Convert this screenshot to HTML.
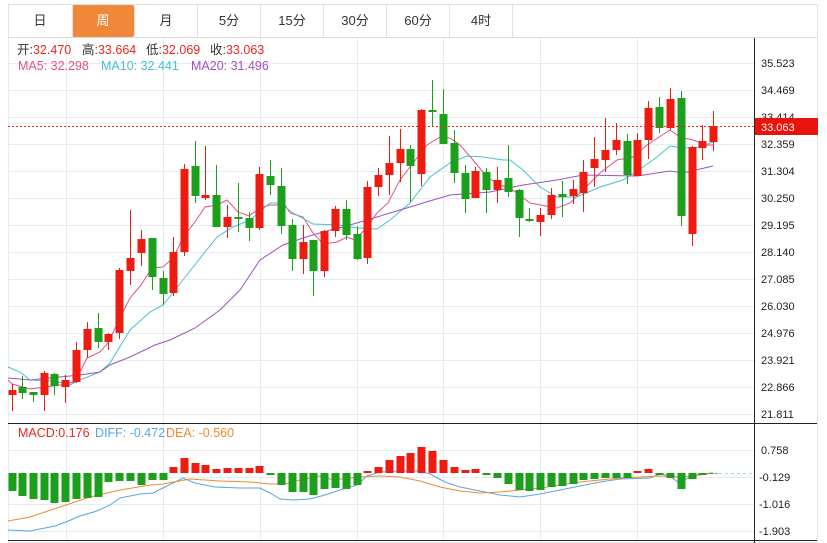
<!DOCTYPE html>
<html><head><meta charset="utf-8"><style>
body{margin:0;background:#fff;width:827px;height:543px;overflow:hidden;font-family:"Liberation Sans","Noto Sans CJK SC",sans-serif}
svg{position:absolute;left:0;top:0}
</style></head><body>
<svg id="s" width="827" height="543" xmlns="http://www.w3.org/2000/svg" font-family="Liberation Sans, Noto Sans CJK SC, sans-serif">
<rect x="8.5" y="4.5" width="809" height="538" fill="none" stroke="#e2e2e2"/>
<line x1="8" y1="37.5" x2="817" y2="37.5" stroke="#dcdcdc"/>
<rect x="72" y="5" width="62" height="32" rx="2" fill="#f0883a"/>
<g stroke="#e2e2e2"><line x1="72.5" y1="5" x2="72.5" y2="37"/><line x1="134.5" y1="5" x2="134.5" y2="37"/><line x1="197.5" y1="5" x2="197.5" y2="37"/><line x1="260.5" y1="5" x2="260.5" y2="37"/><line x1="323.5" y1="5" x2="323.5" y2="37"/><line x1="386.5" y1="5" x2="386.5" y2="37"/><line x1="449.5" y1="5" x2="449.5" y2="37"/><line x1="512.5" y1="5" x2="512.5" y2="37"/></g>
<g font-size="13" text-anchor="middle" fill="#333"><text x="40" y="25">日</text><text x="103" y="25" fill="#fff">周</text><text x="166" y="25">月</text><text x="229" y="25">5分</text><text x="292" y="25">15分</text><text x="355" y="25">30分</text><text x="418" y="25">60分</text><text x="481" y="25">4时</text></g>
<g id="grid" stroke="#e6edf2" stroke-width="1"></g>
<g id="ma"></g>
<g id="c"></g>
<line x1="8" y1="126.5" x2="754" y2="126.5" stroke="#e8281e" stroke-dasharray="2,2"/>
<line x1="713" y1="473.5" x2="754" y2="473.5" stroke="#a8d0ee" stroke-dasharray="3,3"/>
<line x1="754.5" y1="38" x2="754.5" y2="543" stroke="#222"/>
<line x1="8" y1="423.5" x2="817" y2="423.5" stroke="#222"/>
<line x1="8" y1="540.5" x2="817" y2="540.5" stroke="#222"/>
<g font-size="11" fill="#222">
<text x="761" y="67">35.523</text><text x="761" y="94">34.469</text><text x="761" y="121">33.414</text><text x="761" y="148">32.359</text><text x="761" y="175">31.304</text><text x="761" y="202">30.250</text><text x="761" y="229">29.195</text><text x="761" y="256">28.140</text><text x="761" y="283">27.085</text><text x="761" y="310">26.030</text><text x="761" y="337">24.976</text><text x="761" y="364">23.921</text><text x="761" y="391">22.866</text><text x="761" y="418">21.811</text>
<text x="761" y="454">0.758</text><text x="759" y="481">-0.129</text><text x="759" y="508">-1.016</text><text x="759" y="535">-1.903</text>
</g>
<rect x="755" y="118" width="63" height="17" fill="#e8140c"/>
<text x="761" y="131" font-size="11" fill="#fff">33.063</text>
<g font-size="12.5">
<text x="17" y="54" fill="#333">开:<tspan fill="#e8281e">32.470</tspan></text>
<text x="82" y="54" fill="#333">高:<tspan fill="#e8281e">33.664</tspan></text>
<text x="146" y="54" fill="#333">低:<tspan fill="#e8281e">32.069</tspan></text>
<text x="210" y="54" fill="#333">收:<tspan fill="#e8281e">33.063</tspan></text>
<text x="18" y="70" fill="#e0518b">MA5: 32.298</text><text x="101" y="70" fill="#45c0d5">MA10: 32.441</text><text x="191" y="70" fill="#a050c0">MA20: 31.496</text>
<text x="18" y="437" fill="#e8281e">MACD:0.176</text><text x="95" y="437" fill="#5ba4e0">DIFF: -0.472</text><text x="166" y="437" fill="#f08a30">DEA: -0.560</text>
</g>
</svg>
<script>
var NS="http://www.w3.org/2000/svg";
function el(p,t,a){var e=document.createElementNS(NS,t);for(var k in a)e.setAttribute(k,a[k]);p.appendChild(e);return e;}
var g=document.getElementById('grid');
[63,90,117,144,171,198,225,252,279,306,333,360,387,414,450,477,504,531].forEach(function(y){el(g,'line',{x1:8,x2:754,y1:y+.5,y2:y+.5});});
[66,163,260,357,443,540,637].forEach(function(x){el(g,'line',{x1:x+.5,x2:x+.5,y1:38,y2:540});});
el(g,'line',{x1:8.5,x2:8.5,y1:38,y2:540});
var R="#ee1c10",G="#1ca01c";
var C=[[12,R,390,395,384,411],[22,G,387,393,376,399],[33,G,392,395,392,402],[44,R,373,395,371,411],[54,G,374,386,373,395],[65,R,380,387,375,403],[76,R,350,382,342,383],[87,R,329,350,322,358],[98,G,328,342,313,348],[108,R,334,342,333,350],[119,R,270,333,268,339],[130,R,258,271,210,285],[141,R,239,253,230,266],[152,G,238,277,238,290],[163,G,278,294,271,305],[173,R,252,293,237,296],[184,R,169,252,164,256],[195,G,166,196,141,203],[205,R,195,198,146,200],[216,G,195,227,165,227],[227,R,217,227,205,238],[238,G,217,218,183,232],[249,G,218,228,212,241],[259,R,174,228,167,230],[270,G,176,185,160,195],[281,G,186,226,168,234],[292,G,225,259,219,271],[303,R,242,259,225,274],[313,G,240,271,240,296],[324,R,231,271,230,277],[335,R,209,231,206,237],[346,G,209,235,200,240],[357,G,234,259,226,260],[367,R,187,258,181,264],[378,R,175,187,168,196],[389,R,163,175,136,195],[400,R,149,163,129,182],[410,G,149,166,145,202],[421,R,110,174,109,186],[432,G,110,112,80,126],[443,G,114,144,89,144],[454,G,143,173,130,183],[465,G,173,199,165,213],[475,R,171,198,167,198],[486,G,172,190,168,213],[497,R,180,190,167,203],[508,G,178,192,145,197],[519,G,190,218,189,237],[529,G,219,221,208,222],[540,R,215,222,208,236],[551,R,195,215,188,219],[562,G,194,197,181,217],[573,R,189,196,180,204],[583,R,172,193,160,212],[594,R,159,168,137,187],[605,R,150,160,118,172],[616,R,140,150,123,155],[627,G,141,175,134,184],[637,R,140,176,133,176],[648,R,108,140,101,159],[659,G,107,128,97,133],[670,R,99,128,88,130],[681,G,98,216,91,226],[692,R,147,234,146,246],[702,R,141,148,125,160],[713,R,126,142,111,151]];
var c=document.getElementById('c');
C.forEach(function(d){el(c,'line',{x1:d[0]+.5,x2:d[0]+.5,y1:d[4],y2:d[5],stroke:d[1]});el(c,'rect',{x:d[0]-3.5,y:d[2],width:8,height:Math.max(2,d[3]-d[2]),fill:d[1]});});
var M=[491,496,499,500,503,502,499,498,497,482,481,481,485,480,480,-467,-458,-463,-465,-469,-468,-468,-468,-466,475,485,492,492,495,489,488,489,485,-471,-467,-460,-456,-453,-447,-451,-460,-467,-470,-469,475,478,484,490,491,490,487,486,484,480,479,478,478,478,-471,-469,475,478,489,479,475,474];
M.forEach(function(v,i){var x=C[i][0],r=v<0,y=Math.abs(v);var t=r?y:473,h=r?473-y:y-473;el(c,'rect',{x:x-3.5,y:t,width:8,height:Math.max(1,h),fill:r?R:G});});
function pl(pts,col){el(document.getElementById('ma'),'polyline',{points:pts,fill:'none',stroke:col,'stroke-width':1});}
pl("8,380 12,384 30,389 60,385 75,382 87,358 100,352 108,343 119,320 130,298 141,285 152,268 163,267 173,258 184,236 195,222 205,207 217,205 227,200 238,212 249,216 260,208 270,205 285,205 290,213 303,217 313,233 323,244 337,242 347,237 355,240 367,227 377,213 388,203 400,180 413,163 427,145 440,137 450,138 460,145 473,160 487,177 500,185 510,188 530,203 557,208 570,203 583,190 600,173 617,160 633,157 647,145 670,130 680,137 693,140 707,145 713,145","#e0518b");
pl("8,367 20,372 30,380 55,381 70,385 80,380 100,372 110,363 130,330 150,312 163,305 175,290 190,271 217,237 233,227 250,220 270,203 280,203 293,213 313,224 340,225 357,228 377,229 390,220 410,203 430,177 450,163 467,156 483,157 503,160 510,160 523,170 540,187 557,197 577,197 600,187 623,180 643,167 657,157 670,146 683,148 700,147 713,142","#45c0d5");
pl("8,378 30,380 60,377 80,375 100,372 110,365 130,357 155,345 170,340 195,328 220,310 240,290 250,275 260,260 283,245 303,238 323,232 350,225 377,217 400,210 423,203 450,195 477,193 490,192 523,185 557,180 583,175 637,176 670,171 683,173 713,166","#a050c0");
pl("8,530 30,531 55,526 66,522 80,516 97,511 110,505 120,498 140,494 153,493 163,488 183,478 195,483 215,487 240,488 260,488 270,493 280,499 293,500 310,499 325,495 340,490 357,485 367,476 380,472 400,471 418,471 430,474 445,482 460,487 475,490 490,493 500,495 520,497 540,494 560,490 580,486 600,482 620,479 650,478 660,474 670,476 679,483 690,477 700,474 713,473","#5ba4e0");
pl("8,521 30,517 60,507 90,497 120,490 150,485 163,484 190,479 220,481 250,482 270,484 285,484 300,480 320,476 333,480 360,477 380,476 400,477 420,481 440,487 460,491 480,493 500,492 520,490 540,488 560,485 580,482 600,480 620,478 640,477 660,476 680,477 700,475 713,473","#f08a30");
</script>
</body></html>
